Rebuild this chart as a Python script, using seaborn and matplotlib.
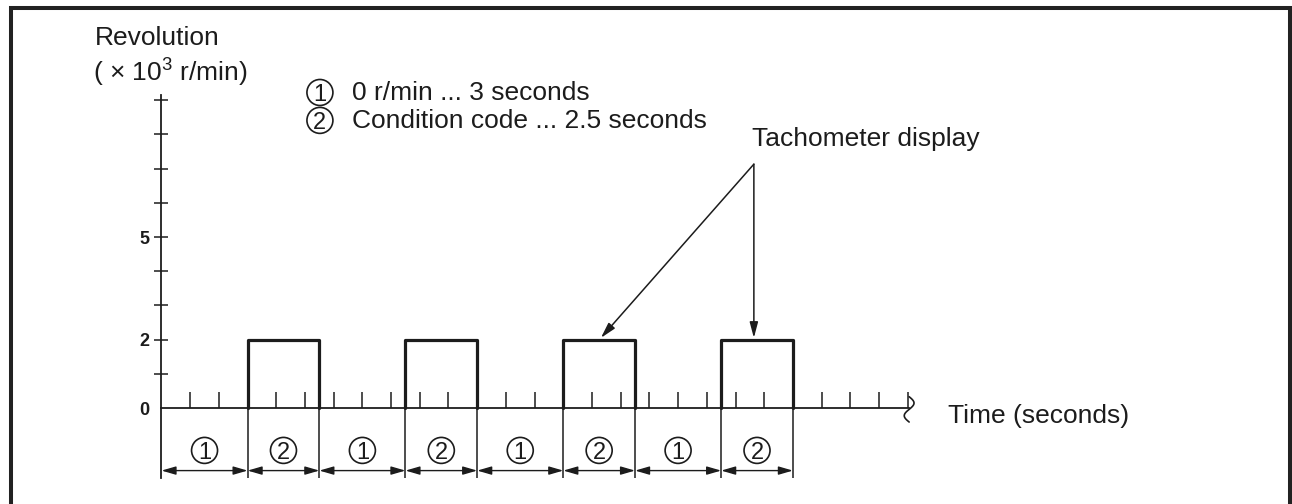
import numpy as np
import pandas as pd
import matplotlib
matplotlib.use('Agg')
import matplotlib.pyplot as plt
import seaborn as sns
from matplotlib.patches import Rectangle

# phases of the display cycle
phase_codes = [1, 2, 1, 2, 1, 2, 1, 2]
phase_seconds = [3, 2.5, 3, 2.5, 3, 2.5, 3, 2.5]
display_rpm = [0, 2, 0, 2, 0, 2, 0, 2]  # x 10^3 r/min
y_labels = [0, 2, 5]
y_max_tick = 9
legend_lines = ['0 r/min ... 3 seconds', 'Condition code ... 2.5 seconds']

ink = '#1c1c1c'

sns.set_theme(style='white')
plt.rcParams['font.family'] = ['Liberation Sans', 'DejaVu Sans']
plt.rcParams['mathtext.fontset'] = 'custom'
plt.rcParams['mathtext.rm'] = 'Liberation Sans'
plt.rcParams['mathtext.it'] = 'Liberation Sans'

bounds = np.concatenate([[0], np.cumsum(phase_seconds)])
mids = (bounds[:-1] + bounds[1:]) / 2
t_end = bounds[-1] + 4.05

# rectangle pulses (only where the tachometer shows something)
rows = []
for i, lvl in enumerate(display_rpm):
    if lvl > 0:
        t0, t1 = bounds[i], bounds[i + 1]
        for t, v in [(t0, 0), (t0, lvl), (t1, lvl), (t1, 0)]:
            rows.append({'t': t, 'rpm': v, 'pulse': i})
df = pd.DataFrame(rows)

fig = plt.figure(figsize=(12.92, 5.04), dpi=100)
ax = fig.add_axes([0, 0, 1, 1])
ax.set_xlim(-5.627, 39.39)
ax.set_ylim(-2.807, 11.93)

sns.lineplot(data=df, x='t', y='rpm', units='pulse', estimator=None, sort=False,
             color=ink, lw=2.3, ax=ax, legend=False)

# axes
for s in ['top', 'right']:
    ax.spines[s].set_visible(False)
ax.spines['left'].set_position(('data', 0))
ax.spines['left'].set_bounds(-2.05, 9.15)
ax.spines['bottom'].set_position(('data', 0))
ax.spines['bottom'].set_bounds(0, t_end)
for s in ['left', 'bottom']:
    ax.spines[s].set_color(ink)
    ax.spines[s].set_linewidth(1.3)

ax.set_yticks(y_labels)
ax.set_yticklabels([str(v) for v in y_labels], fontweight='bold')
ax.set_yticks([v for v in range(1, y_max_tick + 1) if v not in y_labels], minor=True)
ax.tick_params(axis='y', which='both', direction='inout', length=10, width=1.1,
               color=ink, labelsize=13, pad=4, left=True, labelcolor=ink)
ax.yaxis.get_major_ticks()[0].tick1line.set_visible(False)

x_ticks = [t for t in range(1, int(t_end) + 1) if t not in set(bounds)]
ax.set_xticks(x_ticks)
ax.tick_params(axis='x', direction='in', length=11.5, width=1.1, color=ink,
               bottom=True, labelbottom=False)
ax.set_xlabel('')
ax.set_ylabel('')
ax.grid(False)

# axis break mark
tt = np.linspace(-1, 1, 40)
ax.plot(t_end + 0.17 * np.sin(np.pi * tt), 0.37 * tt - 0.04, color=ink, lw=1.2)


def circled(x, y, code):
    ax.scatter([x], [y], s=350, facecolors='none', edgecolors=ink, linewidths=1.2,
               zorder=3)
    ax.text(x, y - 0.07, str(code), ha='center', va='center', fontsize=17, color=ink)


# phase boundaries, arrows and circled codes
ax.vlines(bounds[1:], -2.05, 0, color=ink, lw=1.1)
for i, code in enumerate(phase_codes):
    t0, t1 = bounds[i], bounds[i + 1]
    ax.annotate('', xy=(t1, -1.83), xytext=(t0, -1.83),
                arrowprops=dict(arrowstyle='<|-|>,head_length=0.86,head_width=0.25',
                                mutation_scale=10, shrinkA=0, shrinkB=0, lw=1.0, color=ink))
    circled(mids[i], -1.24, code)

# labels
ax.text(-2.317, 10.61, 'Revolution', fontsize=19, color=ink, va='baseline')
ax.text(-2.387, 9.53, '( \u00d7 10$^3$ r/min)', fontsize=19, color=ink, va='baseline')
ax.text(27.40, -0.43, 'Time (seconds)', fontsize=19, color=ink, va='baseline')

for k, line in enumerate(legend_lines):
    yb = [9.006, 8.19][k]
    circled(5.52, yb + 0.22, phase_codes[k])
    ax.text(6.64, yb, line, fontsize=19, color=ink, va='baseline')

ax.text(20.57, 7.66, 'Tachometer display', fontsize=19, color=ink, va='baseline')
for tip in [(15.31, 2.05), (20.64, 2.05)]:
    ax.annotate('', xy=tip, xytext=(20.64, 7.13),
                arrowprops=dict(arrowstyle='-|>,head_length=0.94,head_width=0.25',
                                mutation_scale=10, shrinkA=0, shrinkB=0, lw=1.1, color=ink))

fig.patches.append(Rectangle((10.5 / 1292, -0.1), (1290 - 10.5) / 1292, 1.1 - 8 / 504,
                             transform=fig.transFigure, fill=False, lw=2.9, ec='#222222'))

fig.savefig('out.png', dpi=100)
